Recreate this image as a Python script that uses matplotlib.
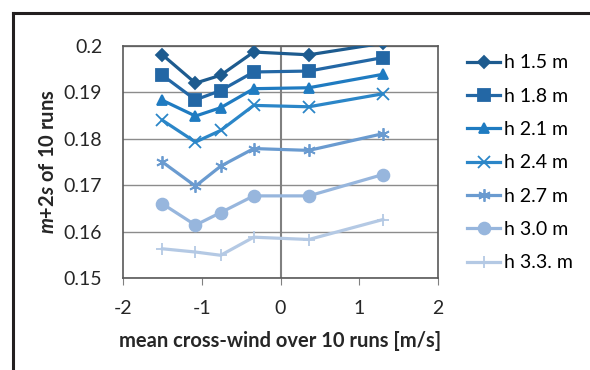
from matplotlib import pyplot as plt
from matplotlib.lines import Line2D

plt.rcParams['font.family'] = ['Lato', 'DejaVu Sans']
plt.rcParams['axes.unicode_minus'] = False
plt.rcParams['mathtext.fontset'] = 'custom'
plt.rcParams['mathtext.rm'] = 'Lato'
plt.rcParams['mathtext.bf'] = 'Lato:bold'
plt.rcParams['mathtext.bfit'] = 'Lato:italic:bold'

wind = [-1.50, -1.08, -0.76, -0.34, 0.36, 1.30]

labels = ["h 1.5 m", "h 1.8 m", "h 2.1 m", "h 2.4 m", "h 2.7 m", "h 3.0 m", "h 3.3. m"]
h15 = [0.1981, 0.1920, 0.1937, 0.1987, 0.1981, 0.2006]
h18 = [0.1937, 0.1884, 0.1904, 0.1944, 0.1946, 0.1975]
h21 = [0.1883, 0.1849, 0.1867, 0.1908, 0.1910, 0.1939]
h24 = [0.1840, 0.1793, 0.1818, 0.1872, 0.1869, 0.1897]
h27 = [0.1750, 0.1698, 0.1741, 0.1779, 0.1775, 0.1811]
h30 = [0.1660, 0.1614, 0.1641, 0.1677, 0.1677, 0.1723]
h33 = [0.1563, 0.1556, 0.1549, 0.1588, 0.1583, 0.1626]
series = [h15, h18, h21, h24, h27, h30, h33]

colors = ["#1d5b8f", "#2367a5", "#1f7bc1", "#2b86c8", "#6a9bd0", "#97b6dd", "#b4c9e4"]
markers = ["D", "s", "^", "x", (6, 2, 0), "o", "+"]
msizes = [6.5, 8, 7.5, 8, 9, 8.5, 9]

fig = plt.figure(figsize=(5.9, 3.7), dpi=100)
ax = fig.add_axes([0.2085, 0.2486, 0.5339, 0.6271])

for ys, c, m, ms, lab in zip(series, colors, markers, msizes, labels):
    ax.plot(wind, ys, color=c, marker=m, markersize=ms, lw=2.3,
            mew=1.3, label=lab, zorder=3)

ax.set_xlim(-2, 2)
ax.set_ylim(0.15, 0.2)
ax.set_xticks([-2, -1, 0, 1, 2])
ax.set_yticks([0.15, 0.16, 0.17, 0.18, 0.19, 0.2])
ax.set_yticklabels(["0.15", "0.16", "0.17", "0.18", "0.19", "0.2"])
ax.grid(axis='y', color='#8c8c8c', lw=1.0)
ax.axvline(0, color='#808080', lw=1.5, zorder=1)
ax.set_axisbelow(True)
for sp in ax.spines.values():
    sp.set_color('#595959')
    sp.set_linewidth(1.2)
ax.tick_params(axis='x', length=5, color='#808080', labelsize=14, pad=11, labelcolor='#262626')
ax.tick_params(axis='y', length=0, labelsize=14, pad=15, labelcolor='#262626')

ax.set_xlabel("mean cross-wind over 10 runs [m/s]", fontsize=14.5, fontweight='bold',
              color='#262626', labelpad=10)
ax.set_ylabel(r"$\mathbfit{m}$+2$\mathbfit{s}$ of 10 runs", fontsize=14.5,
              fontweight='bold', color='#262626', labelpad=4)

fig.legend(loc='upper left', bbox_to_anchor=(0.7915, 0.853), frameon=False,
           fontsize=14, handlelength=1.7, handletextpad=0.2, labelspacing=0.84,
           borderpad=0, borderaxespad=0)

# figure frame: top and left lines
fig.add_artist(Line2D([0.022, 1.0], [0.966, 0.966], color='#231f20', lw=2.2))
fig.add_artist(Line2D([0.022, 0.022], [0.0, 0.966], color='#231f20', lw=2.2))

fig.savefig("out.png", dpi=100)
